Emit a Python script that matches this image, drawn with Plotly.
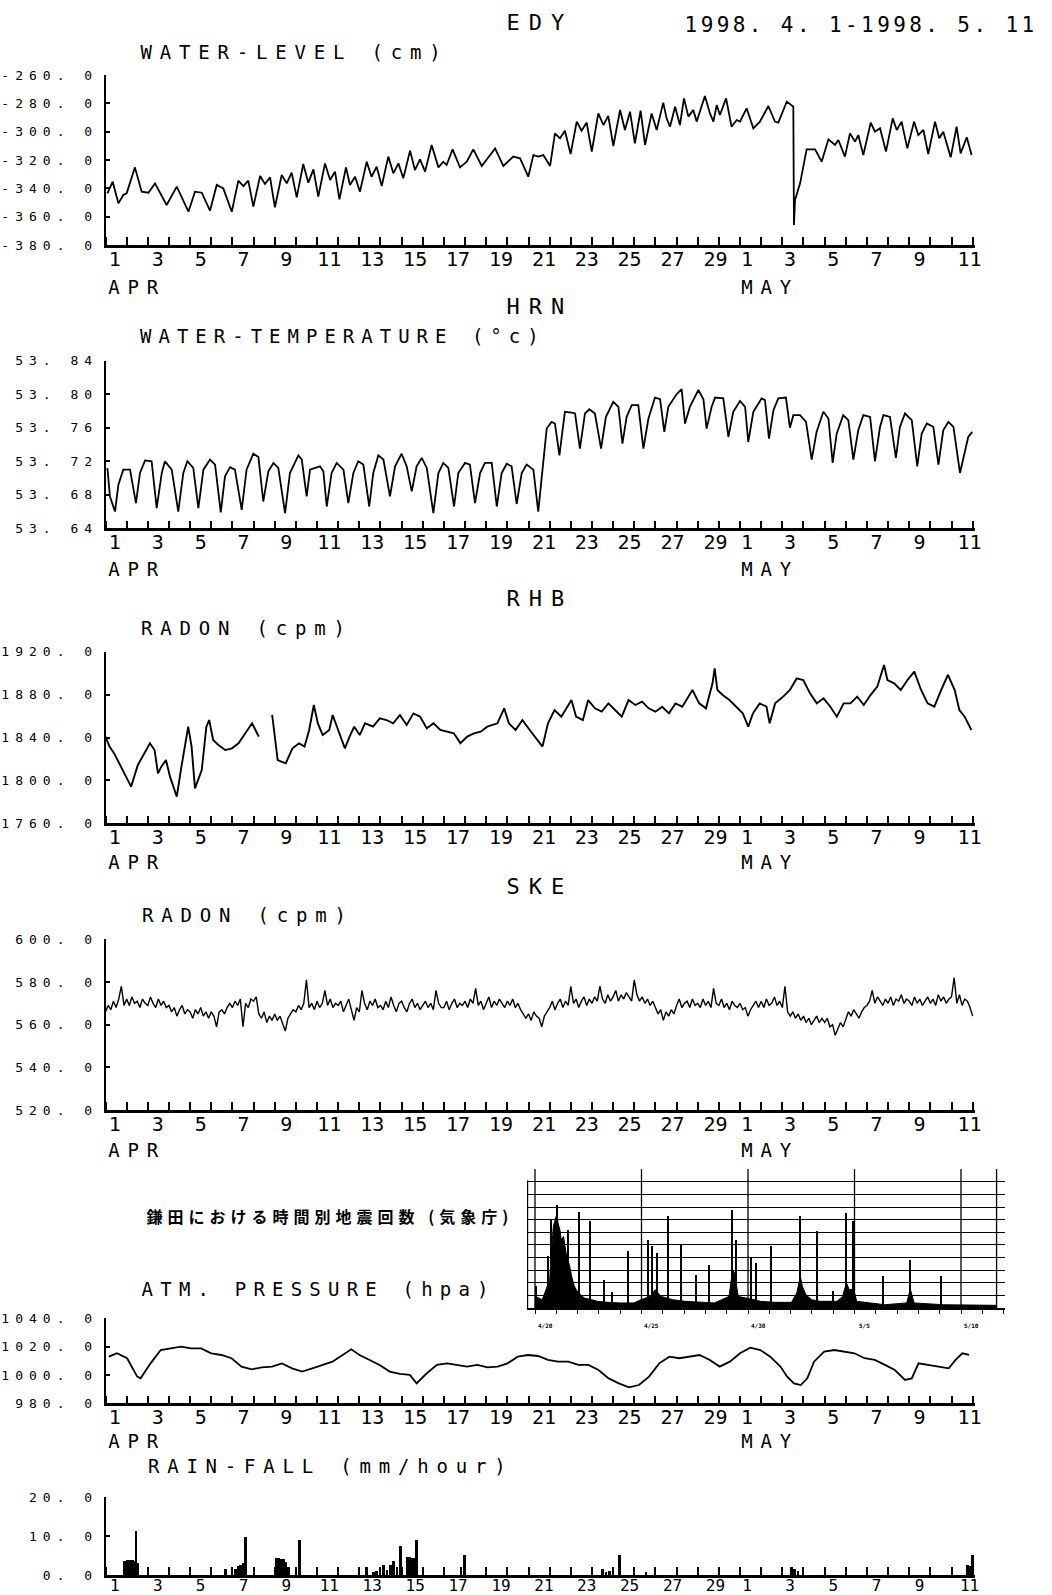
import json
import plotly.graph_objects as go

W, H = 1052, 1595

# ---------------- data (t = days since 1998-04-01 00:00) ----------------
WATER_LEVEL = [
    (0.09, -343.5), (0.34, -335.3), (0.61, -350.6), (0.84, -344.7), (1.00, -343.5),
    (1.39, -325.2), (1.71, -342.4), (2.03, -343.1), (2.34, -336.5), (2.89, -351.8),
    (3.37, -338.8), (3.92, -356.5), (4.23, -342.4), (4.55, -343.1), (4.94, -355.8),
    (5.26, -337.6), (5.57, -340.0), (5.97, -356.5), (6.28, -334.6), (6.52, -338.4),
    (6.75, -334.6), (6.99, -352.9), (7.31, -331.3), (7.54, -336.9), (7.78, -332.2),
    (8.01, -353.4), (8.33, -330.6), (8.57, -336.5), (8.80, -328.9), (9.04, -346.4),
    (9.35, -322.8), (9.59, -336.0), (9.83, -326.6), (10.06, -345.9), (10.38, -322.4),
    (10.62, -334.1), (10.85, -328.2), (11.06, -347.8), (11.37, -325.2), (11.56, -337.6),
    (11.80, -331.8), (12.03, -342.4), (12.35, -321.2), (12.58, -331.8), (12.82, -324.7),
    (13.06, -338.4), (13.37, -317.6), (13.61, -329.4), (13.85, -322.4), (14.08, -332.9),
    (14.40, -313.4), (14.63, -327.1), (14.87, -319.5), (15.11, -328.2), (15.42, -309.4),
    (15.74, -325.2), (15.97, -321.2), (16.13, -323.5), (16.41, -312.5), (16.76, -325.2),
    (17.08, -321.2), (17.39, -312.5), (17.79, -324.2), (18.42, -311.8), (18.81, -324.2),
    (19.28, -317.6), (19.60, -318.8), (19.99, -331.8), (20.23, -316.5), (20.46, -317.6),
    (20.70, -316.5), (21.02, -324.2), (21.25, -301.2), (21.49, -304.7), (21.72, -299.3),
    (21.99, -315.8), (22.28, -292.9), (22.51, -299.3), (22.75, -293.6), (22.99, -314.1),
    (23.30, -287.1), (23.54, -295.3), (23.77, -288.9), (24.01, -310.1), (24.33, -284.7),
    (24.56, -298.8), (24.80, -285.9), (25.03, -308.2), (25.30, -285.2), (25.51, -309.4),
    (25.82, -287.1), (26.06, -298.8), (26.37, -279.5), (26.53, -290.6), (26.69, -296.5),
    (26.93, -282.4), (27.16, -295.3), (27.35, -276.5), (27.56, -289.4), (27.79, -284.7),
    (27.95, -292.9), (28.34, -274.8), (28.58, -287.1), (28.74, -292.9), (28.90, -281.2),
    (29.05, -288.2), (29.34, -276.5), (29.60, -296.5), (29.84, -291.8), (30.00, -292.9),
    (30.31, -283.5), (30.63, -297.6), (30.94, -292.9), (31.34, -281.9), (31.65, -292.9),
    (31.81, -293.6), (32.21, -278.8), (32.52, -282.4), (32.55, -365.9), (32.60, -348.2),
    (32.84, -336.5), (33.15, -312.5), (33.55, -312.5), (33.86, -321.2), (34.18, -305.4),
    (34.49, -309.4), (34.65, -305.9), (34.96, -317.6), (35.20, -301.2), (35.44, -307.1),
    (35.59, -302.4), (35.83, -316.5), (36.18, -293.6), (36.38, -300.0), (36.62, -297.6),
    (36.90, -314.1), (37.22, -290.6), (37.41, -298.8), (37.64, -292.9), (37.91, -311.8),
    (38.23, -292.9), (38.43, -302.4), (38.67, -298.8), (38.90, -315.8), (39.22, -292.9),
    (39.42, -304.7), (39.61, -300.0), (39.96, -318.1), (40.24, -296.5), (40.43, -315.3),
    (40.72, -304.0), (40.95, -316.5),
]

WATER_TEMP = [
    (0.09, 53.712), (0.21, 53.678), (0.45, 53.660), (0.61, 53.692), (0.84, 53.710),
    (1.16, 53.710), (1.44, 53.670), (1.63, 53.706), (1.87, 53.721), (2.18, 53.720),
    (2.42, 53.664), (2.66, 53.706), (2.81, 53.720), (3.13, 53.710), (3.44, 53.660),
    (3.68, 53.706), (3.87, 53.720), (4.15, 53.712), (4.39, 53.664), (4.63, 53.710),
    (4.94, 53.722), (5.18, 53.716), (5.45, 53.659), (5.65, 53.702), (5.89, 53.713),
    (6.12, 53.710), (6.44, 53.662), (6.67, 53.710), (6.99, 53.729), (7.23, 53.725),
    (7.46, 53.672), (7.70, 53.708), (7.94, 53.718), (8.17, 53.712), (8.49, 53.658),
    (8.72, 53.706), (9.12, 53.727), (9.28, 53.722), (9.51, 53.678), (9.67, 53.710),
    (10.14, 53.714), (10.30, 53.708), (10.46, 53.666), (10.69, 53.706), (10.93, 53.718),
    (11.25, 53.710), (11.48, 53.670), (11.72, 53.706), (11.95, 53.720), (12.19, 53.716),
    (12.47, 53.666), (12.66, 53.706), (12.90, 53.727), (13.14, 53.722), (13.45, 53.678),
    (13.69, 53.714), (14.00, 53.729), (14.24, 53.714), (14.48, 53.684), (14.71, 53.714),
    (14.95, 53.724), (15.19, 53.712), (15.50, 53.658), (15.74, 53.706), (15.97, 53.718),
    (16.21, 53.712), (16.48, 53.666), (16.68, 53.706), (17.00, 53.718), (17.23, 53.716),
    (17.47, 53.670), (17.71, 53.706), (17.94, 53.718), (18.26, 53.718), (18.50, 53.666),
    (18.73, 53.706), (18.97, 53.717), (19.20, 53.714), (19.44, 53.669), (19.68, 53.706),
    (19.91, 53.716), (20.23, 53.710), (20.46, 53.660), (20.86, 53.759), (21.09, 53.767),
    (21.25, 53.765), (21.46, 53.727), (21.72, 53.779), (22.04, 53.778), (22.20, 53.777),
    (22.43, 53.735), (22.67, 53.777), (22.88, 53.782), (23.14, 53.777), (23.43, 53.735),
    (23.66, 53.773), (24.01, 53.791), (24.25, 53.785), (24.44, 53.741), (24.64, 53.773),
    (24.88, 53.787), (25.19, 53.787), (25.43, 53.735), (25.67, 53.771), (25.98, 53.796),
    (26.22, 53.794), (26.42, 53.755), (26.61, 53.785), (27.00, 53.800), (27.24, 53.806),
    (27.40, 53.765), (27.63, 53.785), (28.03, 53.805), (28.27, 53.794), (28.42, 53.759),
    (28.66, 53.785), (28.82, 53.796), (29.21, 53.795), (29.45, 53.749), (29.68, 53.779),
    (30.00, 53.792), (30.24, 53.785), (30.39, 53.743), (30.63, 53.779), (31.02, 53.795),
    (31.18, 53.793), (31.37, 53.747), (31.58, 53.781), (31.81, 53.795), (32.17, 53.796),
    (32.36, 53.760), (32.52, 53.775), (32.84, 53.775), (33.12, 53.767), (33.39, 53.722),
    (33.62, 53.755), (33.94, 53.779), (34.18, 53.771), (34.38, 53.718), (34.57, 53.753),
    (34.88, 53.775), (35.12, 53.769), (35.36, 53.722), (35.59, 53.757), (35.83, 53.775),
    (36.15, 53.773), (36.38, 53.720), (36.62, 53.761), (36.78, 53.775), (37.09, 53.773),
    (37.37, 53.724), (37.56, 53.761), (37.80, 53.777), (38.12, 53.769), (38.38, 53.714),
    (38.59, 53.753), (38.83, 53.765), (39.14, 53.761), (39.38, 53.716), (39.61, 53.757),
    (39.85, 53.767), (40.09, 53.761), (40.40, 53.706), (40.64, 53.733), (40.79, 53.749),
    (40.98, 53.755),
]

RADON_RHB = [
    (0.00, 1840.8), (0.19, 1831.5), (0.41, 1825.2), (0.73, 1812.8), (1.05, 1801.9),
    (1.21, 1794.2), (1.53, 1814.4), (1.84, 1825.2), (2.10, 1834.6), (2.32, 1828.3),
    (2.48, 1806.6), (2.64, 1812.8), (2.86, 1819.0), (3.05, 1803.5), (3.37, 1784.8),
    (3.59, 1812.8), (3.81, 1840.8), (3.91, 1850.1), (4.07, 1831.5), (4.23, 1792.6),
    (4.55, 1809.7), (4.77, 1850.1), (4.90, 1856.3), (5.09, 1837.7), (5.34, 1833.0),
    (5.66, 1828.3), (5.98, 1829.9), (6.29, 1834.6), (6.61, 1843.9), (6.93, 1853.2),
    (7.09, 1847.0), (7.25, 1840.8), (7.50, None), (7.88, 1861.0), (8.14, 1819.0),
    (8.52, 1815.9), (8.84, 1829.9), (9.15, 1834.6), (9.41, 1831.5), (9.63, 1847.0),
    (9.85, 1870.3), (10.04, 1853.2), (10.27, 1842.3), (10.58, 1847.0), (10.74, 1861.0),
    (11.00, 1847.0), (11.32, 1829.9), (11.54, 1840.8), (11.76, 1850.1), (12.02, 1842.3),
    (12.27, 1853.2), (12.65, 1850.1), (12.97, 1857.9), (13.29, 1856.3), (13.60, 1853.2),
    (13.92, 1861.0), (14.24, 1851.6), (14.56, 1862.5), (14.88, 1859.4), (15.19, 1848.5),
    (15.51, 1853.2), (15.83, 1847.0), (16.15, 1845.4), (16.47, 1843.9), (16.78, 1834.6),
    (17.10, 1840.8), (17.42, 1843.9), (17.74, 1845.4), (18.05, 1850.1), (18.53, 1853.2),
    (18.85, 1867.2), (19.07, 1853.2), (19.39, 1847.0), (19.71, 1856.3), (20.12, 1845.4),
    (20.44, 1837.7), (20.66, 1831.5), (20.92, 1853.2), (21.23, 1865.6), (21.55, 1859.4),
    (21.81, 1867.2), (22.03, 1874.9), (22.25, 1859.4), (22.57, 1856.3), (22.82, 1874.9),
    (23.14, 1867.2), (23.46, 1864.1), (23.78, 1871.8), (24.09, 1865.6), (24.41, 1859.4),
    (24.73, 1874.9), (25.05, 1870.3), (25.37, 1873.4), (25.68, 1867.2), (26.00, 1864.1),
    (26.32, 1868.7), (26.64, 1862.5), (26.95, 1871.8), (27.27, 1868.7), (27.75, 1884.3),
    (28.07, 1871.8), (28.39, 1867.2), (28.70, 1890.5), (28.80, 1904.5), (28.93, 1884.3),
    (29.18, 1879.6), (29.50, 1874.9), (29.82, 1868.7), (30.13, 1862.5), (30.39, 1850.1),
    (30.61, 1862.5), (30.93, 1871.8), (31.25, 1868.7), (31.40, 1853.2), (31.66, 1871.8),
    (32.04, 1878.1), (32.36, 1884.3), (32.68, 1895.1), (32.99, 1893.6), (33.31, 1881.2),
    (33.63, 1871.8), (33.95, 1876.5), (34.27, 1868.7), (34.58, 1859.4), (34.90, 1871.8),
    (35.22, 1871.8), (35.54, 1878.1), (35.85, 1870.3), (36.17, 1879.6), (36.49, 1887.4),
    (36.81, 1907.6), (36.97, 1893.6), (37.29, 1890.5), (37.60, 1884.3), (37.92, 1893.6),
    (38.24, 1901.4), (38.56, 1884.3), (38.87, 1871.8), (39.19, 1868.7), (39.51, 1884.3),
    (39.83, 1898.3), (40.15, 1884.3), (40.37, 1865.6), (40.62, 1859.4), (40.94, 1847.0),
]

# SKE radon, one reading every 3 hours starting 04-01 00:00 (one row per day)
RADON_SKE = [
    566, 569, 567, 571, 568, 572, 578, 569,
    572, 569, 573, 570, 571, 568, 572, 570,
    569, 573, 570, 568, 572, 569, 571, 568,
    569, 566, 568, 564, 567, 569, 565, 567,
    566, 563, 567, 565, 568, 564, 566, 563,
    566, 564, 559, 566, 567, 565, 568, 570,
    568, 571, 569, 572, 559, 570, 568, 572,
    571, 573, 565, 563, 566, 561, 564, 562,
    565, 562, 564, 560, 557, 563, 565, 567,
    566, 569, 567, 570, 581, 568, 570, 567,
    571, 568, 570, 576, 569, 572, 568, 570,
    569, 571, 566, 569, 572, 567, 562, 568,
    566, 576, 570, 567, 571, 569, 572, 568,
    569, 567, 571, 568, 573, 569, 566, 570,
    571, 568, 566, 570, 572, 568, 570, 567,
    569, 571, 568, 570, 567, 576, 570, 568,
    568, 571, 567, 570, 572, 568, 570, 569,
    571, 568, 572, 570, 577, 569, 571, 567,
    570, 573, 568, 571, 569, 572, 570, 568,
    571, 569, 572, 568, 570, 567, 565, 563,
    565, 562, 566, 564, 563, 559, 564, 566,
    568, 571, 567, 570, 572, 568, 571, 569,
    578, 570, 572, 568, 571, 573, 569, 572,
    570, 573, 571, 578, 572, 570, 574, 571,
    573, 576, 571, 574, 572, 575, 573, 571,
    581, 574, 571, 573, 570, 572, 569, 571,
    568, 565, 567, 562, 566, 564, 567, 565,
    569, 572, 568, 570, 571, 568, 572, 569,
    570, 568, 572, 569, 571, 568, 577, 570,
    569, 572, 568, 570, 567, 571, 569, 568,
    570, 567, 568, 564, 567, 569, 571, 568,
    571, 568, 572, 569, 570, 573, 569, 571,
    568, 578, 566, 564, 566, 563, 565, 562,
    564, 561, 563, 560, 562, 564, 561, 563,
    561, 563, 559, 560, 555, 558, 561, 559,
    563, 566, 564, 567, 565, 563, 566, 568,
    569, 571, 576, 570, 573, 571, 569, 572,
    570, 573, 569, 572, 571, 574, 570, 572,
    571, 569, 573, 570, 572, 569, 571, 573,
    570, 572, 569, 574, 571, 573, 570, 572,
    573, 582, 570, 574, 569, 572, 571, 568,
    564,
]
SKE_STEP_DAYS = 0.125

ATM_PRESSURE = [
    (0.16, 1012.9), (0.54, 1015.3), (1.02, 1011.8), (1.50, 998.8), (1.66, 997.6),
    (2.13, 1008.2), (2.61, 1017.6), (3.09, 1018.8), (3.57, 1020.0), (4.04, 1018.8),
    (4.52, 1018.8), (5.00, 1015.3), (5.48, 1014.1), (5.96, 1011.8), (6.43, 1005.9),
    (6.91, 1004.0), (7.39, 1005.4), (7.87, 1005.9), (8.34, 1008.2), (8.82, 1004.7),
    (9.30, 1002.4), (9.78, 1004.7), (10.25, 1007.1), (10.73, 1009.4), (11.21, 1014.1),
    (11.62, 1018.1), (12.01, 1014.1), (12.48, 1010.6), (12.96, 1007.1), (13.44, 1002.4),
    (13.92, 1000.7), (14.39, 1000.0), (14.71, 994.1), (15.19, 1001.2), (15.67, 1007.1),
    (16.15, 1008.2), (16.62, 1007.1), (17.10, 1005.9), (17.58, 1007.1), (18.06, 1005.4),
    (18.54, 1005.9), (19.01, 1008.2), (19.49, 1012.9), (19.97, 1014.1), (20.45, 1013.4),
    (20.92, 1010.6), (21.40, 1009.4), (21.88, 1009.4), (22.36, 1007.1), (22.83, 1007.1),
    (23.31, 1003.5), (23.79, 997.6), (24.27, 994.1), (24.75, 991.3), (25.22, 992.9),
    (25.70, 998.8), (26.18, 1008.2), (26.66, 1012.9), (27.13, 1011.8), (27.61, 1012.9),
    (28.09, 1014.1), (28.57, 1010.6), (29.04, 1005.9), (29.52, 1009.4), (30.00, 1015.3),
    (30.48, 1019.3), (30.96, 1017.6), (31.43, 1012.9), (31.91, 1005.9), (32.23, 998.8),
    (32.55, 994.1), (32.87, 992.9), (33.18, 997.6), (33.50, 1009.4), (33.98, 1016.5),
    (34.46, 1017.6), (34.94, 1016.5), (35.41, 1015.3), (35.89, 1011.8), (36.37, 1010.6),
    (36.85, 1007.1), (37.32, 1003.5), (37.80, 996.5), (38.12, 997.6), (38.44, 1008.2),
    (38.92, 1007.1), (39.39, 1005.9), (39.87, 1004.7), (40.19, 1010.6), (40.51, 1015.3),
    (40.83, 1014.1),
]

RAINFALL = [
    (0.88, 3.6), (1.00, 3.9), (1.12, 3.8), (1.24, 3.8), (1.36, 3.5), (1.42, 11.2), (1.50, 3.0),
    (5.64, 1.5), (6.12, 1.5), (6.24, 2.2), (6.36, 2.6), (6.48, 3.0), (6.60, 9.7),
    (8.04, 4.2), (8.16, 4.3), (8.28, 4.1), (8.40, 4.0), (8.52, 3.3), (8.64, 2.0), (9.14, 9.0),
    (12.32, 2.0), (12.64, 0.8), (12.80, 1.0), (12.96, 1.2), (13.12, 2.4), (13.28, 1.2),
    (13.44, 2.5), (13.60, 3.5), (13.76, 2.0), (13.92, 7.5), (14.24, 4.5), (14.36, 4.6),
    (14.48, 4.3), (14.60, 4.4), (14.68, 9.0), (16.78, 2.0), (16.94, 5.0),
    (23.48, 1.5), (23.64, 0.8), (23.80, 1.0), (23.96, 1.5), (24.27, 5.0), (25.54, 0.8),
    (32.40, 2.0), (32.56, 1.5), (32.72, 1.0), (40.72, 2.5), (40.84, 2.2), (40.96, 5.0),
]

# inset: hourly earthquake counts at Kamata (u = days from first grid line; h = grid units)
EQ_SPIKES = [
    (0.08, 1.72), (0.60, 4.09), (0.77, 6.99), (1.03, 8.18), (1.54, 6.20), (2.06, 7.65),
    (2.58, 6.86), (3.23, 2.24), (3.61, 1.24), (4.38, 4.49), (5.33, 5.41), (5.50, 4.88),
    (5.76, 4.35), (6.27, 7.26), (6.88, 5.01), (7.56, 2.64), (8.16, 3.43), (9.28, 7.78),
    (9.46, 5.41), (10.15, 3.96), (10.40, 3.56), (11.09, 4.88), (12.46, 7.31), (13.24, 6.07),
    (14.01, 1.32), (14.62, 7.57), (14.96, 6.86), (16.33, 2.51), (17.62, 3.83), (19.08, 2.51),
]
EQ_BACKGROUND = [
    (0.00, 0.0), (0.05, 0.90), (0.34, 0.66), (0.69, 2.24), (0.86, 6.46), (0.94, 6.99),
    (1.03, 7.50), (1.08, 6.73), (1.17, 6.20), (1.23, 5.41), (1.34, 5.67), (1.46, 4.35),
    (1.63, 3.30), (1.72, 2.51), (1.85, 1.72), (1.98, 1.32), (2.15, 1.06), (2.32, 0.79),
    (2.66, 0.66), (2.92, 0.53), (3.44, 0.45), (3.95, 0.40), (4.64, 0.40), (4.98, 0.66),
    (5.41, 0.92), (5.64, 1.45), (5.93, 0.92), (6.45, 0.66), (7.05, 0.53), (7.74, 0.45),
    (8.42, 0.40), (9.11, 0.92), (9.28, 3.00), (9.37, 2.77), (9.54, 0.92), (10.28, 0.66),
    (10.57, 0.53), (11.26, 0.45), (12.04, 0.45), (12.29, 1.19), (12.46, 2.50), (12.55, 1.72),
    (12.72, 1.06), (12.98, 0.66), (13.38, 0.53), (14.18, 0.53), (14.44, 0.92), (14.62, 2.00),
    (14.75, 1.45), (14.96, 1.50), (15.10, 0.53), (16.42, 0.26), (17.45, 0.40), (17.62, 1.50),
    (17.80, 0.40), (19.17, 0.26), (21.67, 0.21), (21.67, 0.0),
]
EQ_DATE_TICKS = [0, 5, 10, 15, 20]
EQ_DATE_LABELS = ["4/20", "4/25", "4/30", "5/5", "5/10"]

# day tick marks (midnights) and the day-number labels as printed under each axis
DAY_TICKS = list(range(0, 42))
LABEL_T = [0.44, 2.47, 4.50, 6.53, 8.55, 10.58, 12.61, 14.64, 16.67, 18.70, 20.73, 22.75,
           24.78, 26.81, 28.84, 30.33, 32.37, 34.41, 36.45, 38.49, 40.85]
LABEL_TEXT = ["1", "3", "5", "7", "9", "11", "13", "15", "17", "19", "21", "23", "25", "27",
              "29", "1", "3", "5", "7", "9", "11"]

WL_TICKS = [-380, -360, -340, -320, -300, -280, -260]
WL_LABELS = ["-380. 0", "-360. 0", "-340. 0", "-320. 0", "-300. 0", "-280. 0", "-260. 0"]
WT_TICKS = [53.64, 53.68, 53.72, 53.76, 53.80, 53.84]
WT_LABELS = ["53. 64", "53. 68", "53. 72", "53. 76", "53. 80", "53. 84"]
RHB_TICKS = [1760, 1800, 1840, 1880, 1920]
RHB_LABELS = ["1760. 0", "1800. 0", "1840. 0", "1880. 0", "1920. 0"]
SKE_TICKS = [520, 540, 560, 580, 600]
SKE_LABELS = ["520. 0", "540. 0", "560. 0", "580. 0", "600. 0"]
ATM_TICKS = [980, 1000, 1020, 1040]
ATM_LABELS = ["980. 0", "1000. 0", "1020. 0", "1040. 0"]
RAIN_TICKS = [0, 10, 20]
RAIN_LABELS = ["0. 0", "10. 0", "20. 0"]

# ---------------- layout helpers ----------------
MONO = "DejaVu Sans Mono"
CJK = "Noto Sans CJK JP"
X0_PX, X1_PX = 105.5, 975.0
T_RANGE = [0, 41.11]


def xp(px):
    return px / W


def yp(px):
    return 1 - px / H


def split(pairs):
    return [p[0] for p in pairs], [p[1] for p in pairs]


fig = go.Figure()
LINE = dict(color="black", width=1.8)

t, v = split(WATER_LEVEL)
fig.add_trace(go.Scatter(x=t, y=v, mode="lines", line=LINE, xaxis="x", yaxis="y"))
t, v = split(WATER_TEMP)
fig.add_trace(go.Scatter(x=t, y=v, mode="lines", line=LINE, xaxis="x2", yaxis="y2"))
t, v = split(RADON_RHB)
fig.add_trace(go.Scatter(x=t, y=v, mode="lines", line=dict(color="black", width=1.9),
                         connectgaps=False, xaxis="x3", yaxis="y3"))
ske_t = [i * SKE_STEP_DAYS for i in range(len(RADON_SKE))]
fig.add_trace(go.Scatter(x=ske_t, y=RADON_SKE, mode="lines", line=dict(color="black", width=1.4),
                         xaxis="x4", yaxis="y4"))
t, v = split(ATM_PRESSURE)
fig.add_trace(go.Scatter(x=t, y=v, mode="lines", line=LINE, xaxis="x5", yaxis="y5"))
t, v = split(RAINFALL)
fig.add_trace(go.Bar(x=t, y=v, width=0.12, marker=dict(color="black", line=dict(width=0)),
                     xaxis="x6", yaxis="y6"))
t, v = split(EQ_BACKGROUND)
fig.add_trace(go.Scatter(x=t, y=v, mode="lines", fill="tozeroy", fillcolor="black",
                         line=dict(color="black", width=1), xaxis="x7", yaxis="y7"))
t, v = split(EQ_SPIKES)
fig.add_trace(go.Bar(x=t, y=v, width=0.07, marker=dict(color="black", line=dict(width=0)),
                     xaxis="x7", yaxis="y7"))

PANELS = [
    (75.0, 245.0, [-380, -260], WL_TICKS, WL_LABELS),
    (360.7, 528.3, [53.64, 53.84], WT_TICKS, WT_LABELS),
    (651.7, 823.3, [1760, 1920], RHB_TICKS, RHB_LABELS),
    (939.3, 1110.0, [520, 600], SKE_TICKS, SKE_LABELS),
    (1318.3, 1403.3, [980, 1040], ATM_TICKS, ATM_LABELS),
    (1497.3, 1575.0, [0, 20], RAIN_TICKS, RAIN_LABELS),
]

layout = dict(
    width=W, height=H, autosize=False,
    margin=dict(l=0, r=0, t=0, b=0),
    paper_bgcolor="white", plot_bgcolor="white",
    showlegend=False, barmode="overlay", bargap=0,
    font=dict(family=MONO, color="black"),
)

for i, (top, bot, rng, tv, tt) in enumerate(PANELS, start=1):
    sx = "" if i == 1 else str(i)
    last = i == len(PANELS)
    layout["xaxis" + sx] = dict(
        domain=[xp(X0_PX), xp(X1_PX)], range=T_RANGE, anchor="y" + sx,
        tickmode="array", tickvals=LABEL_T, ticktext=LABEL_TEXT, ticks="",
        ticklabelstandoff=-6,
        minor=dict(tickmode="array", tickvals=DAY_TICKS, ticks="inside", ticklen=8,
                   tickwidth=1.5, tickcolor="black", showgrid=False),
        showline=True, linewidth=2.5, linecolor="black",
        showgrid=False, zeroline=False, automargin=False,
        tickfont=dict(family=MONO, size=16 if last else 20, color="black"),
    )
    layout["yaxis" + sx] = dict(
        domain=[yp(bot), yp(top)], range=rng, anchor="x" + sx,
        tickmode="array", tickvals=tv, ticktext=tt,
        ticks="inside", ticklen=5, tickwidth=1.5, tickcolor="black",
        ticklabelstandoff=3,
        showline=True, linewidth=1.5, linecolor="black",
        showgrid=False, zeroline=False, automargin=False,
        tickfont=dict(family=MONO, size=13, color="black"),
    )

# inset histogram
IN_X0, IN_X1 = 527.0, 1005.0
layout["xaxis7"] = dict(
    domain=[xp(IN_X0), xp(IN_X1)], range=[(IN_X0 - 535) / 21.3, (IN_X1 - 535) / 21.3],
    anchor="y7", tickmode="linear", tick0=0, dtick=1, ticks="outside", ticklen=4,
    tickwidth=1, tickcolor="black", showticklabels=False,
    showline=True, linewidth=2, linecolor="black",
    showgrid=False, zeroline=False, automargin=False,
)
layout["yaxis7"] = dict(
    domain=[yp(1308), yp(1169)], range=[0, 11.02], anchor="x7",
    tickmode="linear", tick0=0, dtick=1, ticks="", showticklabels=False,
    showgrid=True, gridcolor="black", gridwidth=1.3,
    showline=False, zeroline=False, automargin=False,
)

shapes = []
for u in EQ_DATE_TICKS + [21.67]:
    shapes.append(dict(type="line", xref="x7", yref="y7", x0=u, x1=u, y0=0, y1=11.3,
                       line=dict(color="black", width=1.3)))
shapes.append(dict(type="line", xref="x7", yref="y7", x0=-0.35, x1=-0.35, y0=0, y1=10.1,
                   line=dict(color="black", width=1.3)))
layout["shapes"] = shapes

annotations = []
LS = {}


def ann(text, xc, yc, size, ls, family=MONO, weight="normal"):
    annotations.append(dict(text=text, x=xp(xc), y=yp(yc), xref="paper", yref="paper",
                            xanchor="center", yanchor="middle", showarrow=False,
                            font=dict(family=family, size=size, color="black", weight=weight)))
    LS[text] = ls


TITLE_SIZE, TITLE_LS = 19, 7.8
ann("EDY", 540, 22, 22, 9)
ann("1998. 4. 1-1998. 5. 11", 861, 25, 21, 3.4)
ann("WATER-LEVEL (cm)", 294, 52, TITLE_SIZE, TITLE_LS)
ann("HRN", 540, 307, 22, 9)
ann("WATER-TEMPERATURE (°c)", 343, 336, TITLE_SIZE, 7.0)
ann("RHB", 540, 598, 22, 9)
ann("RADON (cpm)", 247, 628, TITLE_SIZE, TITLE_LS)
ann("SKE", 540, 886, 22, 9)
ann("RADON (cpm)", 248, 915, TITLE_SIZE, TITLE_LS)
ann("鎌田における時間別地震回数 (気象庁)", 330, 1216, 16, 5, family=CJK, weight="bold")
ann("ATM. PRESSURE (hpa)", 318, 1289, TITLE_SIZE, 7.2)
ann("RAIN-FALL (mm/hour)", 330, 1466, TITLE_SIZE, TITLE_LS)
for yc in (287, 569, 862, 1150, 1441):
    ann("APR", 137, yc, TITLE_SIZE, TITLE_LS)
    ann("MAY", 770, yc, TITLE_SIZE, TITLE_LS)

for u, lab in zip(EQ_DATE_TICKS, EQ_DATE_LABELS):
    annotations.append(dict(text=lab, x=u, y=yp(1325), xref="x7", yref="paper",
                            xanchor="center", yanchor="middle", xshift=10, showarrow=False,
                            font=dict(family=MONO, size=6, color="black", weight="bold")))
layout["annotations"] = annotations

fig.update_layout(**layout)

POST = """
document.body.style.margin = '0px';
document.body.style.padding = '0px';
var gd = document.getElementById('{plot_id}');
var LS = %s;
gd.querySelectorAll('.annotation-text').forEach(function(e){
  var k = e.textContent; if (Object.prototype.hasOwnProperty.call(LS, k)) { e.style.letterSpacing = LS[k] + 'px'; }
});
gd.querySelectorAll('.yaxislayer-above text').forEach(function(e){ e.style.letterSpacing = '6px'; });
""" % json.dumps(LS)

fig.write_html("out.html", post_script=POST, config={"displayModeBar": False})
